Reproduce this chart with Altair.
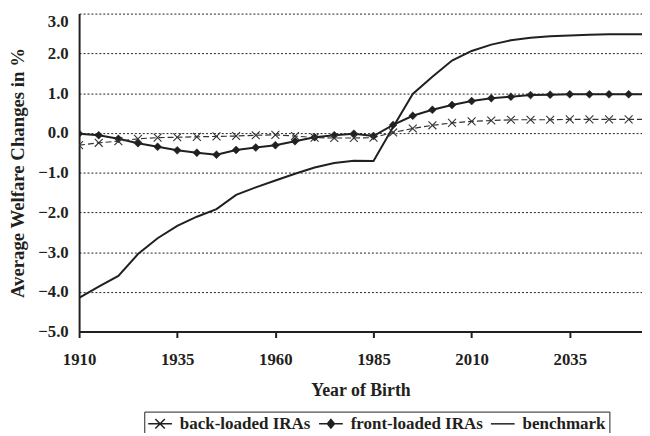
import altair as alt
import pandas as pd

# ---- data ----
years = [1910, 1915, 1920, 1925, 1930, 1935, 1940, 1945, 1950, 1955,
         1960, 1965, 1970, 1975, 1980, 1985, 1990, 1995, 2000, 2005,
         2010, 2015, 2020, 2025, 2030, 2035, 2040, 2045, 2050, 2055]

back_loaded = [-0.31, -0.25, -0.21, -0.15, -0.12, -0.11, -0.10, -0.09, -0.08, -0.06,
               -0.05, -0.08, -0.12, -0.13, -0.13, -0.12, 0.01, 0.11, 0.19, 0.25,
               0.29, 0.31, 0.33, 0.33, 0.33, 0.34, 0.34, 0.34, 0.34, 0.34]

front_loaded = [-0.02, -0.06, -0.15, -0.26, -0.35, -0.44, -0.50, -0.55, -0.43, -0.37,
                -0.31, -0.21, -0.11, -0.06, -0.02, -0.08, 0.20, 0.43, 0.58, 0.70,
                0.80, 0.87, 0.91, 0.95, 0.96, 0.97, 0.97, 0.97, 0.97, 0.97]

benchmark = [-4.15, -3.87, -3.60, -3.05, -2.65, -2.34, -2.11, -1.92, -1.56, -1.37,
             -1.20, -1.03, -0.87, -0.76, -0.70, -0.71, 0.15, 0.98, 1.41, 1.82,
             2.06, 2.22, 2.33, 2.39, 2.43, 2.45, 2.47, 2.48, 2.48, 2.48]

series_names = ["back-loaded IRAs", "front-loaded IRAs", "benchmark"]
x_ticks = [1910, 1935, 1960, 1985, 2010, 2035]
y_ticks = [-5, -4, -3, -2, -1, 0, 1, 2, 3]

rows = []
for name, vals in zip(series_names, [back_loaded, front_loaded, benchmark]):
    for yr, v in zip(years, vals):
        rows.append({"year": yr, "value": v, "series": name})
df = pd.DataFrame(rows)

FONT = "Liberation Serif"
INK = "#231f20"

X_PATH = "M-1,-1L1,1M-1,1L1,-1"
LEG_BACK = "M-1.5,0H1.5M-0.6,-0.6L0.6,0.6M-0.6,0.6L0.6,-0.6"
LEG_FRONT = ("M-1.5,0H1.5M0,-0.55L0.45,0L0,0.55L-0.45,0Z"
             "M0,-0.3L0.25,0L0,0.3L-0.25,0ZM0,-0.55V0.55")
LEG_BENCH = "M-1.5,0H1.5"

x_enc = alt.X(
    "year:Q",
    scale=alt.Scale(domain=[1910, 2053.4], nice=False, zero=False),
    axis=alt.Axis(
        values=x_ticks, format="d", title="Year of Birth", grid=False,
        domainColor=INK, domainWidth=2, tickColor=INK, tickWidth=2, tickSize=6,
        labelFlush=False, labelPadding=14, titlePadding=15, titleFontSize=18,
    ),
)
y_enc = alt.Y(
    "value:Q",
    scale=alt.Scale(domain=[-5, 3], nice=False, zero=False),
    axis=alt.Axis(
        values=y_ticks, format=".1f", title="Average Welfare Changes in %",
        grid=True, gridColor=INK, gridDash=[2, 2], gridWidth=1,
        domainColor=INK, domainWidth=2, ticks=False, tickSize=0,
        labelPadding=11, titlePadding=10, titleFontSize=19,
        labelBaseline=alt.condition("datum.value == 3", alt.value("top"), alt.value("middle")),
    ),
)

base = alt.Chart(df).encode(x=x_enc, y=y_enc)

bench_line = base.transform_filter(alt.datum.series == "benchmark").mark_line(
    color=INK, strokeWidth=2, clip=True)
front_line = base.transform_filter(alt.datum.series == "front-loaded IRAs").mark_line(
    color=INK, strokeWidth=2, clip=True)
back_line = base.transform_filter(alt.datum.series == "back-loaded IRAs").mark_line(
    color="#333333", strokeWidth=1.2, strokeDash=[6, 3], clip=True)
front_pts = base.transform_filter(alt.datum.series == "front-loaded IRAs").mark_point(
    shape="diamond", filled=True, fill=INK, stroke=INK, strokeWidth=0.5, size=64, opacity=1, clip=True)
back_pts = base.transform_filter(alt.datum.series == "back-loaded IRAs").mark_point(
    shape=X_PATH, filled=False, stroke="#333333", strokeWidth=1.1, size=64, opacity=1, clip=True)

legend_layer = base.transform_filter("datum.year < 0").mark_point(
    filled=False, stroke=INK, strokeWidth=1.5, size=256, opacity=1
).encode(
    shape=alt.Shape(
        "series:N",
        scale=alt.Scale(domain=series_names, range=[LEG_BACK, LEG_FRONT, LEG_BENCH]),
        legend=alt.Legend(
            title=None, orient="none", legendX=66, legendY=403,
            direction="horizontal", columns=3,
            symbolSize=256, symbolOffset=4, symbolStrokeWidth=1.5,
            symbolStrokeColor=INK,
            labelFont=FONT, labelFontSize=17.2, labelFontWeight="bold", labelColor=INK,
            labelOffset=11, columnPadding=5, padding=3, strokeColor=INK,
        ),
    )
)

chart = alt.layer(
    bench_line, front_line, back_line, front_pts, back_pts, legend_layer
).properties(
    width=570, height=322,
    autosize=alt.AutoSizeParams(type="none"),
    padding={"left": 72, "top": 3, "right": 0, "bottom": 100},
    background="white",
).configure_view(
    stroke=None
).configure_axis(
    labelFont=FONT, labelFontSize=17, labelFontWeight="bold", labelColor=INK,
    titleFont=FONT, titleFontWeight="bold", titleColor=INK,
).configure_legend(
    strokeWidth=1
)

chart.save("out.html", embed_options={"renderer": "svg", "actions": False})
